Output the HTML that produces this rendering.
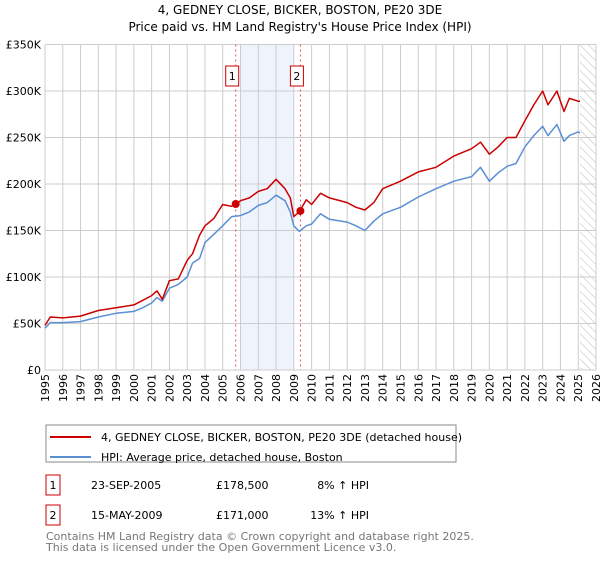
<!DOCTYPE html>
<html><head><meta charset="utf-8"><style>
body{margin:0;background:#fff;font-family:"Liberation Sans","DejaVu Sans",sans-serif;}
text{font-family:"DejaVu Sans","Liberation Sans",sans-serif;}
</style></head><body>
<svg id="c" width="600" height="560" xmlns="http://www.w3.org/2000/svg">
<text x="300" y="14" text-anchor="middle" font-size="12">4, GEDNEY CLOSE, BICKER, BOSTON, PE20 3DE</text>
<text x="300" y="31" text-anchor="middle" font-size="12">Price paid vs. HM Land Registry's House Price Index (HPI)</text>
<g id="plot"></g>
<rect x="46" y="425" width="410" height="37" fill="#fff" stroke="#888"/>
<line x1="50" y1="437" x2="91" y2="437" stroke="#cc0000" stroke-width="2"/>
<text x="101" y="441" font-size="11">4, GEDNEY CLOSE, BICKER, BOSTON, PE20 3DE (detached house)</text>
<line x1="50" y1="457" x2="91" y2="457" stroke="#5b8fd4" stroke-width="2"/>
<text x="101" y="461" font-size="11">HPI: Average price, detached house, Boston</text>
<g>
<rect x="46" y="475" width="14" height="20" fill="none" stroke="#cc0000"/>
<text x="53" y="489" font-size="11" text-anchor="middle">1</text>
<text x="91" y="489" font-size="11">23-SEP-2005</text>
<text x="216" y="489" font-size="11">£178,500</text>
<text x="369" y="489" font-size="11" text-anchor="end">8% ↑ HPI</text></g>
<g>
<rect x="46" y="505" width="14" height="20" fill="none" stroke="#cc0000"/>
<text x="53" y="519" font-size="11" text-anchor="middle">2</text>
<text x="91" y="519" font-size="11">15-MAY-2009</text>
<text x="216" y="519" font-size="11">£171,000</text>
<text x="369" y="519" font-size="11" text-anchor="end">13% ↑ HPI</text></g>
<text x="46" y="540" font-size="11" fill="#777">Contains HM Land Registry data © Crown copyright and database right 2025.</text>
<text x="46" y="551" font-size="11" fill="#777">This data is licensed under the Open Government Licence v3.0.</text>
</svg>
<script>
const hpiYears=[1995,1995.3,1996,1997,1998,1999,2000,2000.5,2001,2001.3,2001.6,2002,2002.5,2003,2003.3,2003.7,2004,2004.5,2005,2005.5,2006,2006.5,2007,2007.5,2008,2008.5,2008.8,2009,2009.3,2009.7,2010,2010.5,2011,2012,2012.5,2013,2013.5,2014,2015,2016,2017,2018,2019,2019.5,2020,2020.5,2021,2021.5,2022,2022.5,2023,2023.3,2023.8,2024.2,2024.5,2025,2025.1];
const hpiValues=[45,51,51,52,57,61,63,67,72,78,74,88,92,100,115,120,137,146,155,165,166,170,177,180,188,182,170,155,149,155,157,168,162,159,155,150,160,168,175,186,195,203,208,218,203,212,219,222,240,252,262,252,264,246,252,256,255];
const priceYears=hpiYears;
const priceValues=[48,57,56,58,64,67,70,75,80,85,76,96,98,118,125,145,155,163,178,176,182,185,192,195,205,195,185,165,170,183,178,190,185,180,175,172,180,195,203,213,218,230,238,245,232,240,250,250,268,285,300,285,300,278,292,289,289];
const saleDates=[2005.73,2009.37];
const salePrices=[178.5,171];
const saleLabels=["1","2"];
const yTicks=[0,50,100,150,200,250,300,350];
const yTickLabels=["£0","£50K","£100K","£150K","£200K","£250K","£300K","£350K"];
const xTicks=[];for(let y=1995;y<=2026;y++)xTicks.push(y);
const NS="http://www.w3.org/2000/svg";
const X0=45,X1=596,Y0=370,Y1=44.5;
const xs=v=>X0+(v-1995)/(2026-1995)*(X1-X0);
const ys=v=>Y0-v/350*(Y0-Y1);
const g=document.getElementById('plot');
function mk(t,a){const e=document.createElementNS(NS,t);for(const k in a)e.setAttribute(k,a[k]);g.appendChild(e);return e;}
let e;
e=mk('rect',{x:xs(2006),y:Y1,width:xs(2009)-xs(2006),height:Y0-Y1,fill:'#eef3fc'});


const defs=mk('defs',{});
defs.innerHTML='<pattern id="h" width="6" height="6" patternUnits="userSpaceOnUse" patternTransform="rotate(-45)"><line x1="0" y1="0" x2="0" y2="6" stroke="#bbb" stroke-width="1"/></pattern>';
e=mk('rect',{x:xs(2025.1),y:Y1,width:X1-xs(2025.1),height:Y0-Y1,fill:'url(#h)'});


yTicks.forEach((t,i)=>{
 e=mk('line',{x1:X0,x2:X1,y1:ys(t),y2:ys(t),stroke:'#ccc'});
 
 
 e=mk('text',{x:X0-4,y:ys(t)+4,'text-anchor':'end','font-size':'11'});e.textContent=yTickLabels[i];
 
 
});
xTicks.forEach(t=>{
 e=mk('line',{x1:xs(t),x2:xs(t),y1:Y1,y2:Y0,stroke:'#ccc'});
 
 
 e=mk('text',{x:0,y:0,'font-size':'11','text-anchor':'end',transform:`translate(${xs(t)+4},${Y0+4}) rotate(-90)`});e.textContent=t;
 
 
});
saleDates.forEach((d,i)=>{
 e=mk('line',{x1:xs(d),x2:xs(d),y1:Y1,y2:Y0,stroke:'#e05050','stroke-dasharray':'2,3'});
 
 
 e=mk('rect',{x:xs(d)-10,y:66,width:13,height:20,fill:'#fff',stroke:'#cc0000'});
 
 
 e=mk('text',{x:xs(d)-3.5,y:80,'text-anchor':'middle','font-size':'11'});e.textContent=saleLabels[i];
 
 
});
function line(xa,va,col,name){
 const p=xa.map((x,i)=>(i?'L':'M')+xs(x).toFixed(1)+','+ys(va[i]).toFixed(1)).join('');
 e=mk('path',{d:p,fill:'none',stroke:col,'stroke-width':'1.5','stroke-linejoin':'round'});
 
 
}
line(hpiYears,hpiValues,'#5b8fd4','hpi-line');
line(priceYears,priceValues,'#cc0000','property-price-line');
saleDates.forEach((d,i)=>{
 e=mk('circle',{cx:xs(d),cy:ys(salePrices[i]),r:4,fill:'#cc0000'});
 
 
});
</script>
</body></html>
